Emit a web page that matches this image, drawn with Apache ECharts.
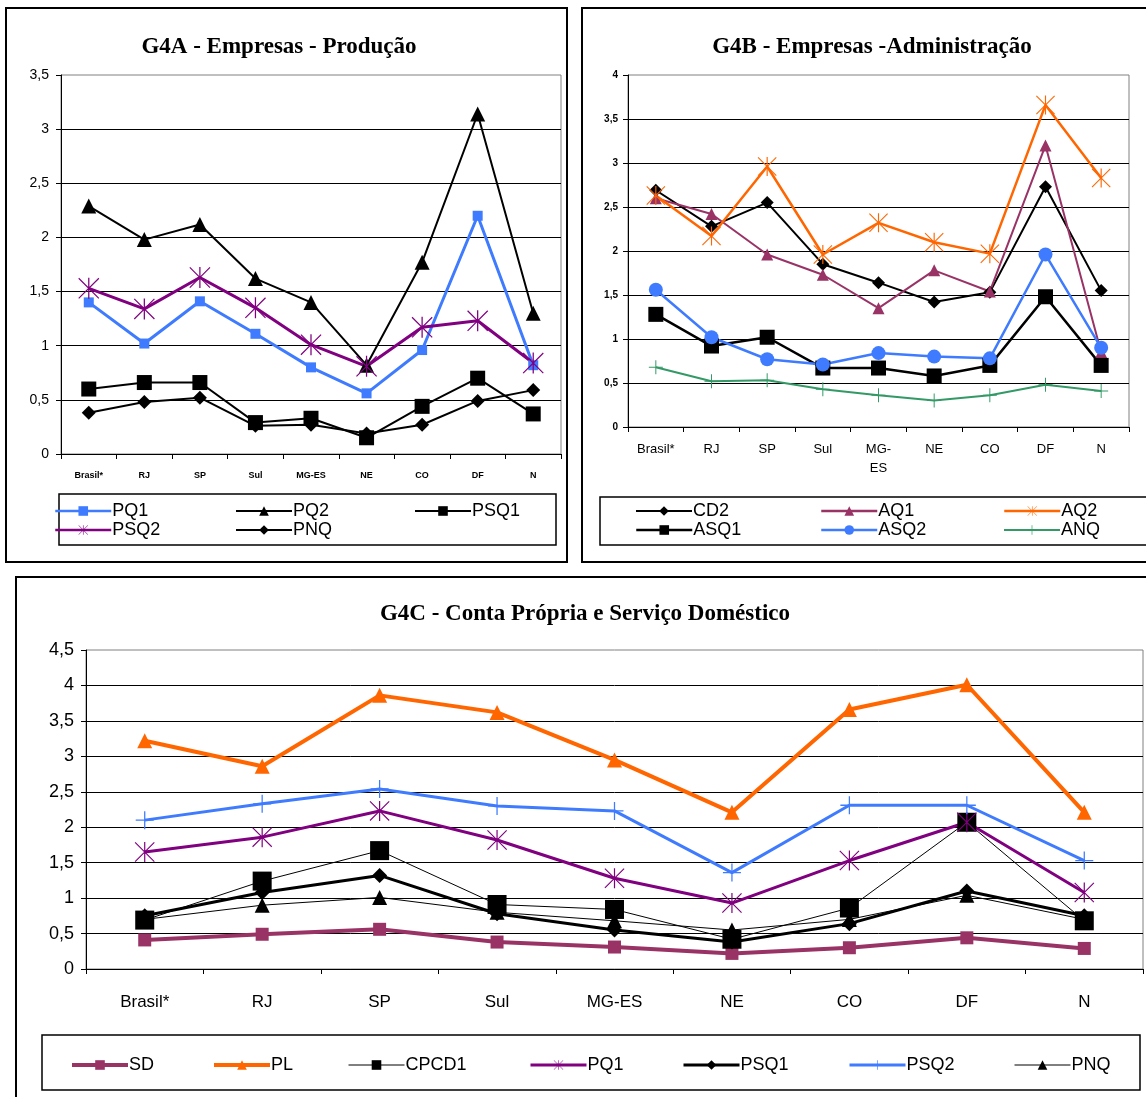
<!DOCTYPE html>
<html>
<head>
<meta charset="utf-8">
<title>G4 - Empresas, Conta Própria e Serviço Doméstico</title>
<script src="https://cdn.jsdelivr.net/npm/echarts@6/dist/echarts.min.js"></script>
<style>
  html, body { margin: 0; padding: 0; background: #fff; }
  #chart { width: 1146px; height: 1097px; }
</style>
</head>
<body>
<div id="chart"></div>
<script>
// Regions shown on every panel
const categories = ['Brasil*', 'RJ', 'SP', 'Sul', 'MG-ES', 'NE', 'CO', 'DF', 'N'];

// G4A - Empresas - Produção
const prodPQ1  = [1.40, 1.02, 1.41, 1.11, 0.80, 0.56, 0.96, 2.20, 0.82];
const prodPQ2  = [2.29, 1.98, 2.12, 1.62, 1.40, 0.82, 1.77, 3.14, 1.30];
const prodPSQ1 = [0.60, 0.66, 0.66, 0.29, 0.33, 0.15, 0.44, 0.70, 0.37];
const prodPSQ2 = [1.53, 1.34, 1.63, 1.35, 1.01, 0.81, 1.17, 1.23, 0.84];
const prodPNQ  = [0.38, 0.48, 0.52, 0.26, 0.27, 0.19, 0.27, 0.49, 0.59];

// G4B - Empresas - Administração
const admCD2  = [2.69, 2.28, 2.55, 1.85, 1.64, 1.42, 1.53, 2.73, 1.55];
const admAQ1  = [2.60, 2.42, 1.96, 1.73, 1.35, 1.78, 1.54, 3.20, 0.85];
const admAQ2  = [2.63, 2.17, 2.96, 1.96, 2.32, 2.10, 1.97, 3.66, 2.83];
const admASQ1 = [1.28, 0.92, 1.02, 0.67, 0.67, 0.58, 0.70, 1.48, 0.70];
const admASQ2 = [1.56, 1.02, 0.77, 0.71, 0.84, 0.80, 0.78, 1.96, 0.90];
const admANQ  = [0.68, 0.52, 0.53, 0.43, 0.36, 0.30, 0.36, 0.48, 0.41];

// G4C - Conta Própria e Serviço Doméstico
const cpSD    = [0.41, 0.49, 0.56, 0.38, 0.31, 0.22, 0.30, 0.44, 0.29];
const cpPL    = [3.22, 2.86, 3.86, 3.62, 2.95, 2.21, 3.66, 4.01, 2.21];
const cpCPCD1 = [0.69, 1.24, 1.67, 0.91, 0.84, 0.42, 0.86, 2.07, 0.68];
const cpPQ1   = [1.65, 1.86, 2.23, 1.82, 1.28, 0.93, 1.53, 2.07, 1.08];
const cpPSQ1  = [0.75, 1.08, 1.32, 0.78, 0.55, 0.38, 0.64, 1.10, 0.75];
const cpPSQ2  = [2.10, 2.33, 2.54, 2.30, 2.23, 1.36, 2.31, 2.31, 1.53];
const cpPNQ   = [0.70, 0.90, 1.01, 0.80, 0.68, 0.55, 0.70, 1.04, 0.70];

// y-axis tick values
const ticksA = [0, 0.5, 1, 1.5, 2, 2.5, 3, 3.5];
const ticksB = [0, 0.5, 1, 1.5, 2, 2.5, 3, 3.5, 4];
const ticksC = [0, 0.5, 1, 1.5, 2, 2.5, 3, 3.5, 4, 4.5];

// Excel-style markers
const STAR = 'path://M9.4,0H10.6V20H9.4Z M0.8,0L20,19.2L19.2,20L0,0.8Z M19.2,0L20,0.8L0.8,20L0,19.2Z';
const PLUS = 'path://M9.3,0H10.7V20H9.3Z M0,9.3H20V10.7H0Z';

const BLUE = '#3F7BFF', PURPLE = '#800080', MAROON = '#993366',
      ORANGE = '#FF6600', GREEN = '#339966', BLACK = '#000000';

const commaFmt = v => String(v).replace('.', ',');

function line(name, data, grid, color, width, symbol, size) {
  return {
    type: 'line', name: name, data: data,
    xAxisIndex: grid, yAxisIndex: grid,
    symbol: symbol, symbolSize: size, symbolKeepAspect: true,
    showAllSymbol: true,
    lineStyle: { color: color, width: width },
    itemStyle: { color: color, borderWidth: 0 },
    emphasis: { disabled: true },
    animation: false
  };
}

function legendItem(name, left, top, width) {
  return {
    data: [name], left: left, top: top, padding: 0,
    orient: 'horizontal', selectedMode: false,
    itemWidth: 56, itemHeight: 12, itemGap: 0,
    formatter: n => n.slice(2),
    lineStyle: { width: width },
    textStyle: { fontFamily: 'Liberation Sans', fontSize: 18, color: '#000', padding: [0, 0, 0, -4] }
  };
}

function yAxis(grid, max, fontSize, margin, bold) {
  return {
    type: 'value', gridIndex: grid, min: 0, max: max, interval: 0.5,
    axisLine: { show: true, lineStyle: { color: '#000', width: 1 } },
    axisTick: { show: true, length: 5, lineStyle: { color: '#000' } },
    axisLabel: {
      formatter: commaFmt, color: '#000', margin: margin,
      fontFamily: 'Liberation Sans', fontSize: fontSize, fontWeight: bold ? 'bold' : 'normal'
    },
    splitLine: { show: true, showMaxLine: false, lineStyle: { color: '#000', width: 1 } }
  };
}

function xAxis(grid, fontSize, margin, bold, fmt) {
  return {
    type: 'category', gridIndex: grid, data: categories, boundaryGap: true,
    axisLine: { show: true, lineStyle: { color: '#000', width: 1 } },
    axisTick: { show: true, length: 5, alignWithLabel: false, lineStyle: { color: '#000' } },
    axisLabel: {
      interval: 0, color: '#000', margin: margin,
      fontFamily: 'Liberation Sans', fontSize: fontSize, fontWeight: bold ? 'bold' : 'normal',
      lineHeight: fontSize + 6,
      formatter: fmt || (v => v)
    },
    splitLine: { show: false }
  };
}

const titleFont = 'bold 23px "Liberation Serif"';

const option = {
  backgroundColor: '#fff',
  animation: false,
  grid: [
    { left: 61, top: 75, width: 500, height: 379, show: true, borderColor: '#808080', borderWidth: 1 },
    { left: 628, top: 75, width: 501, height: 352, show: true, borderColor: '#808080', borderWidth: 1 },
    { left: 86, top: 650, width: 1057, height: 319, show: true, borderColor: '#808080', borderWidth: 1 }
  ],
  xAxis: [
    xAxis(0, 9, 14, true),
    xAxis(1, 13, 13, false, v => v === 'MG-ES' ? 'MG-\nES' : v),
    xAxis(2, 17, 22, false)
  ],
  yAxis: [
    yAxis(0, ticksA[ticksA.length - 1], 14, 12, false),
    yAxis(1, ticksB[ticksB.length - 1], 10, 10, true),
    yAxis(2, ticksC[ticksC.length - 1], 18, 12, false)
  ],
  legend: [
    legendItem('A-PQ1', 54, 502, 2.5), legendItem('A-PQ2', 235, 502, 2), legendItem('A-PSQ1', 414, 502, 2),
    legendItem('A-PSQ2', 54, 521, 2.5), legendItem('A-PNQ', 235, 521, 2),
    legendItem('B-CD2', 635, 502, 2), legendItem('B-AQ1', 820, 502, 2.5), legendItem('B-AQ2', 1003, 502, 2.5),
    legendItem('B-ASQ1', 635, 521, 2.5), legendItem('B-ASQ2', 820, 521, 2.5), legendItem('B-ANQ', 1003, 521, 2),
    legendItem('C-SD', 70, 1056, 4), legendItem('C-PL', 212, 1056, 4), legendItem('C-CPCD1', 348, 1056, 1),
    legendItem('C-PQ1', 529, 1056, 3), legendItem('C-PSQ1', 682, 1056, 3), legendItem('C-PSQ2', 848, 1056, 3),
    legendItem('C-PNQ', 1014, 1056, 1)
  ],
  series: [
    line('A-PQ1', prodPQ1, 0, BLUE, 3, 'rect', 10),
    line('A-PQ2', prodPQ2, 0, BLACK, 2, 'triangle', 15),
    line('A-PSQ1', prodPSQ1, 0, BLACK, 2, 'rect', 15),
    line('A-PSQ2', prodPSQ2, 0, PURPLE, 3, STAR, 21),
    line('A-PNQ', prodPNQ, 0, BLACK, 2, 'diamond', 14),

    line('B-CD2', admCD2, 1, BLACK, 2, 'diamond', 13),
    line('B-AQ1', admAQ1, 1, MAROON, 2, 'triangle', 12),
    line('B-AQ2', admAQ2, 1, ORANGE, 2.5, STAR, 19),
    line('B-ASQ1', admASQ1, 1, BLACK, 2.5, 'rect', 15),
    line('B-ASQ2', admASQ2, 1, BLUE, 2.5, 'circle', 14),
    line('B-ANQ', admANQ, 1, GREEN, 2, PLUS, 14),

    line('C-SD', cpSD, 2, MAROON, 4, 'rect', 13),
    line('C-PL', cpPL, 2, ORANGE, 4, 'triangle', 15),
    line('C-CPCD1', cpCPCD1, 2, BLACK, 1, 'rect', 19),
    line('C-PQ1', cpPQ1, 2, PURPLE, 3, STAR, 20),
    line('C-PSQ1', cpPSQ1, 2, BLACK, 3, 'diamond', 15),
    line('C-PSQ2', cpPSQ2, 2, BLUE, 3, PLUS, 18),
    line('C-PNQ', cpPNQ, 2, BLACK, 1, 'triangle', 15)
  ],
  graphic: [
    // panel frames
    { type: 'rect', shape: { x: 6, y: 8, width: 561, height: 554 }, style: { fill: null, stroke: '#000', lineWidth: 2 }, z: -10 },
    { type: 'rect', shape: { x: 582, y: 8, width: 570, height: 554 }, style: { fill: null, stroke: '#000', lineWidth: 2 }, z: -10 },
    { type: 'rect', shape: { x: 16, y: 577, width: 1136, height: 526 }, style: { fill: null, stroke: '#000', lineWidth: 2 }, z: -10 },
    // legend boxes
    { type: 'rect', shape: { x: 59, y: 494, width: 497, height: 51 }, style: { fill: null, stroke: '#000', lineWidth: 1.5 }, z: -10 },
    { type: 'rect', shape: { x: 600, y: 497, width: 552, height: 48 }, style: { fill: null, stroke: '#000', lineWidth: 1.5 }, z: -10 },
    { type: 'rect', shape: { x: 42, y: 1035, width: 1098, height: 55 }, style: { fill: null, stroke: '#000', lineWidth: 1.5 }, z: -10 },
    // panel titles
    { type: 'text', x: 279, y: 47, style: { text: 'G4A - Empresas - Produção', font: titleFont, fill: '#000', textAlign: 'center', textVerticalAlign: 'middle' } },
    { type: 'text', x: 872, y: 47, style: { text: 'G4B - Empresas -Administração', font: titleFont, fill: '#000', textAlign: 'center', textVerticalAlign: 'middle' } },
    { type: 'text', x: 585, y: 614, style: { text: 'G4C - Conta Própria e Serviço Doméstico', font: titleFont, fill: '#000', textAlign: 'center', textVerticalAlign: 'middle' } }
  ]
};

const chart = echarts.init(document.getElementById('chart'), null, { renderer: 'canvas' });
chart.setOption(option);
</script>
</body>
</html>
